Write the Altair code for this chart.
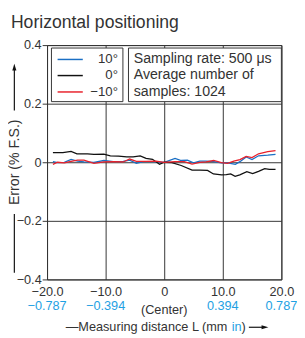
import altair as alt
import pandas as pd

# ---- data ----
series_names = ["10°", "0°", "−10°"]
series_colors = ["#1a6fc4", "#111111", "#e8212b"]

blue_x = [-19.0, -18.2, -17.05, -15.9, -14.8, -13.7, -12.0, -10.3, -8.7, -7.0, -5.9, -4.75,
          -3.6, -2.0, 0.0, 1.85, 2.9, 3.96, 5.0, 6.07, 7.13, 8.44, 9.76, 10.82, 12.14, 12.93,
          13.99, 14.99, 16.1, 17.68, 19.0]
blue_y = [0.002, -0.001, 0.0, 0.010, 0.004, 0.001, 0.0, 0.006, 0.002, 0.003, 0.007, -0.004,
          0.002, 0.002, 0.0, 0.013, 0.006, 0.007, -0.002, 0.004, 0.004, 0.002, -0.002, -0.002,
          -0.007, 0.002, 0.018, 0.009, 0.022, 0.024, 0.027]

black_x = [-19.0, -17.3, -15.9, -14.9, -13.1, -12.0, -10.3, -9.2, -7.8, -6.4, -5.3, -4.1,
           -3.1, -2.0, -0.8, 0.0, 1.3, 2.9, 4.75, 6.1, 7.4, 8.4, 9.8, 10.6, 11.35, 12.1,
           12.9, 14.1, 15.1, 16.1, 17.15, 17.95, 19.0]
black_y = [0.033, 0.033, 0.037, 0.029, 0.029, 0.027, 0.028, 0.022, 0.021, 0.018, 0.018, 0.022,
           0.013, 0.010, -0.007, 0.0, -0.001, -0.011, -0.027, -0.027, -0.028, -0.040, -0.043,
           -0.042, -0.040, -0.048, -0.043, -0.032, -0.039, -0.031, -0.022, -0.024, -0.024]

red_x = [-19.0, -18.2, -17.05, -15.9, -14.8, -13.7, -12.0, -10.3, -8.7, -7.0, -5.9, -4.75,
         -3.1, -1.4, 0.0, 1.85, 3.43, 4.75, 6.07, 7.13, 8.44, 9.76, 10.82, 11.88, 12.93,
         13.99, 14.99, 16.1, 17.68, 19.0]
red_y = [-0.007, 0.0, -0.002, 0.003, 0.007, 0.007, -0.004, 0.001, 0.002, 0.001, 0.011, 0.003,
         0.003, 0.004, 0.0, 0.002, 0.002, -0.006, 0.0, 0.001, 0.006, -0.001, -0.004, 0.004,
         0.009, 0.020, 0.016, 0.029, 0.036, 0.040]

x_ticks = [-20, -10, 0, 10, 20]
y_ticks = [-0.4, -0.2, 0, 0.2, 0.4]
inch_vals = [-20, -10, 10, 20]
inch_text = ["−0.787", "−0.394", "0.394", "0.787"]
info_lines = ["Sampling rate: 500 μs", "Average number of", "samples: 1024"]

FONT = "Liberation Sans"
INK = "#333333"
CYAN = "#1ea1e3"

rows = []
for name, xs, ys in [(series_names[0], blue_x, blue_y),
                     (series_names[1], black_x, black_y),
                     (series_names[2], red_x, red_y)]:
    for xv, yv in zip(xs, ys):
        rows.append({"series": name, "x": xv, "y": yv})
df = pd.DataFrame(rows)

xscale = alt.Scale(domain=[-20, 20], nice=False, zero=False)
yscale = alt.Scale(domain=[-0.4, 0.4], nice=False, zero=False)
cscale = alt.Scale(domain=series_names, range=series_colors)

lines = alt.Chart(df).mark_line(strokeWidth=1.3, clip=False).encode(
    x=alt.X("x:Q", scale=xscale,
            axis=alt.Axis(values=x_ticks, title=None, grid=True, gridColor=INK, gridWidth=1,
                          domain=False, ticks=False, tickSize=0, labelPadding=6,
                          labelExpr="datum.value == 0 ? '0' : format(datum.value, '.1f')",
                          labelFont=FONT, labelFontSize=13, labelColor=INK, labelFlush=False)),
    y=alt.Y("y:Q", scale=yscale,
            axis=alt.Axis(values=y_ticks, title=None, grid=True, gridColor=INK, gridWidth=1,
                          domain=False, ticks=True, tickSize=5, tickColor=INK, labelPadding=1,
                          labelExpr="datum.value == 0 ? '0' : format(datum.value, '.1f')",
                          labelFont=FONT, labelFontSize=13, labelColor=INK, labelFlush=False)),
    color=alt.Color("series:N", scale=cscale, legend=None),
    detail="series:N",
    order="x:Q",
)

# boxes (legend + info)
boxes_df = pd.DataFrame({"x": [-19.25, -6.1], "x2": [-7.05, 20.0],
                         "y": [0.39, 0.39], "y2": [0.207, 0.207]})
boxes = alt.Chart(boxes_df).mark_rect(fill="white", stroke=INK, strokeWidth=1).encode(
    x=alt.X("x:Q", scale=xscale), x2="x2:Q",
    y=alt.Y("y:Q", scale=yscale), y2="y2:Q")

leg_y = [0.351, 0.296, 0.240]
leg_df = pd.DataFrame({"series": series_names, "x": [-18.2] * 3, "x2": [-13.9] * 3,
                       "y": leg_y, "tx": [-7.9] * 3})
leg_lines = alt.Chart(leg_df).mark_rule(strokeWidth=1.5).encode(
    x=alt.X("x:Q", scale=xscale), x2="x2:Q",
    y=alt.Y("y:Q", scale=yscale),
    color=alt.Color("series:N", scale=cscale, legend=None))
leg_text = alt.Chart(leg_df).mark_text(align="right", baseline="middle", font=FONT,
                                       fontSize=13.5, color=INK).encode(
    x=alt.X("tx:Q", scale=xscale), y=alt.Y("y:Q", scale=yscale), text="series:N")

info_df = pd.DataFrame({"t": info_lines, "x": [-5.2] * 3, "y": leg_y})
info_text = alt.Chart(info_df).mark_text(align="left", baseline="middle", font=FONT,
                                         fontSize=14.5, color=INK).encode(
    x=alt.X("x:Q", scale=xscale), y=alt.Y("y:Q", scale=yscale), text="t:N")

# inch sub labels
inch_df = pd.DataFrame({"x": inch_vals, "t": inch_text})
inch = alt.Chart(inch_df).mark_text(align="center", baseline="alphabetic", font=FONT,
                                    fontSize=13, color=CYAN).encode(
    x=alt.X("x:Q", scale=xscale), y=alt.value(271), text="t:N")
center = alt.Chart(pd.DataFrame({"x": [0], "t": ["(Center)"]})).mark_text(
    align="center", baseline="alphabetic", font=FONT, fontSize=13, color=INK).encode(
    x=alt.X("x:Q", scale=xscale), y=alt.value(275.5), text="t:N")

# x-axis title pieces
xt_df = pd.DataFrame({"x": [10.78, 11.53, 13.2],
                      "t": ["—Measuring distance L (mm", "in", ")"]})
xt1 = alt.Chart(xt_df.iloc[[0]]).mark_text(align="right", baseline="alphabetic", font=FONT,
                                           fontSize=13, color=INK).encode(
    x=alt.X("x:Q", scale=xscale), y=alt.value(293), text="t:N")
xt2 = alt.Chart(xt_df.iloc[[1]]).mark_text(align="left", baseline="alphabetic", font=FONT,
                                           fontSize=13, color=CYAN).encode(
    x=alt.X("x:Q", scale=xscale), y=alt.value(293), text="t:N")
xt3 = alt.Chart(xt_df.iloc[[2]]).mark_text(align="left", baseline="alphabetic", font=FONT,
                                           fontSize=13, color=INK).encode(
    x=alt.X("x:Q", scale=xscale), y=alt.value(293), text="t:N")
xarrow_line = alt.Chart(pd.DataFrame({"x": [14.45], "x2": [17.0]})).mark_rule(
    color="#111", strokeWidth=1.2).encode(
    x=alt.X("x:Q", scale=xscale), x2="x2:Q", y=alt.value(289))
xarrow_head = alt.Chart(pd.DataFrame({"x": [17.2]})).mark_point(
    shape="M1,0L-1,-0.6L-1,0.6Z", size=49, filled=True, color="#111", opacity=1).encode(
    x=alt.X("x:Q", scale=xscale), y=alt.value(289))

# y-axis title with arrow
ytitle = alt.Chart(pd.DataFrame({"y": [0.0], "t": ["Error (% F.S.)"]})).mark_text(
    align="center", baseline="middle", angle=270, font=FONT, fontSize=14.5, color=INK).encode(
    x=alt.value(-32.5), y=alt.Y("y:Q", scale=yscale), text="t:N")
yarrow_lines = alt.Chart(pd.DataFrame({"y": [-0.177, 0.177], "y2": [-0.377, 0.315]})).mark_rule(
    color="#111", strokeWidth=1.2).encode(
    x=alt.value(-33.5), y=alt.Y("y:Q", scale=yscale), y2="y2:Q")
yarrow_head = alt.Chart(pd.DataFrame({"y": [0.325]})).mark_point(
    shape="M0,-1L0.6,1L-0.6,1Z", size=49, filled=True, color="#111", opacity=1).encode(
    x=alt.value(-33.5), y=alt.Y("y:Q", scale=yscale))

title = alt.Chart(pd.DataFrame({"t": ["Horizontal positioning"]})).mark_text(
    align="left", baseline="alphabetic", font=FONT, fontSize=18, color=INK).encode(
    x=alt.value(-37), y=alt.value(-18), text="t:N")

chart = alt.layer(
    lines, boxes, leg_lines, leg_text, info_text, inch, center,
    xt1, xt2, xt3, xarrow_line, xarrow_head, ytitle, yarrow_lines, yarrow_head, title
).resolve_scale(color="shared").properties(
    width=240, height=240,
    autosize=alt.AutoSizeParams(type="none"),
    padding={"left": 40, "top": 34, "right": 16, "bottom": 56},
    background="white",
).configure_view(stroke=INK, strokeWidth=1)

chart.save("out.html", embed_options={"renderer": "svg", "actions": False})
